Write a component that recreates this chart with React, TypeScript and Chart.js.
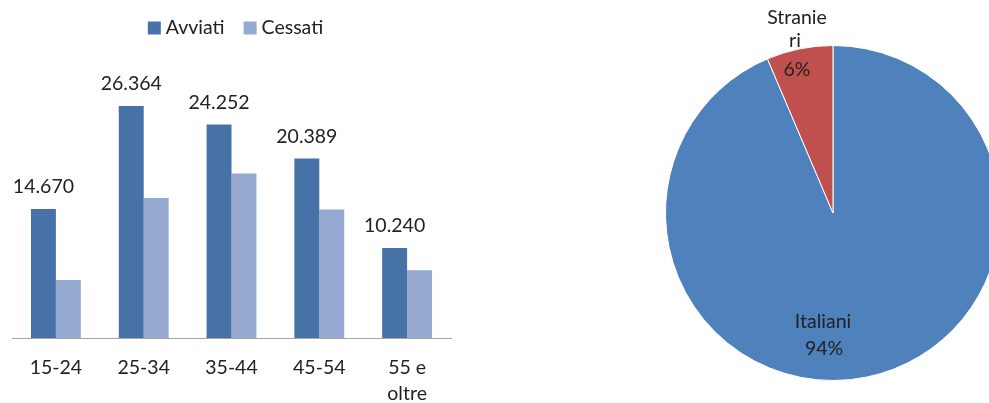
import React, { useEffect, useRef } from 'react';
import { Chart, registerables } from 'chart.js';

Chart.register(...registerables);

// ---- data ----
const ageGroups: (string | string[])[] = ['15-24', '25-34', '35-44', '45-54', ['55 e', 'oltre']];
const seriesNames = ['Avviati', 'Cessati'];
const avviati = [14670, 26364, 24252, 20389, 10240];
const cessati = [6600, 15900, 18700, 14600, 7700];
const yMax = 30000;

const origins = ['Italiani', 'Stranieri'];
const originLabelLines = [['Italiani'], ['Stranie', 'ri']];
const originShares = [93.6, 6.4];

// ---- style ----
const FONT = 'Lato';
const FS = 19.5;
const TEXT = '#222222';
const C_AVV = '#4672A8';
const C_CES = '#95A9D1';
const C_ITA = '#4F81BD';
const C_STR = '#C0504D';

const fmt = (v: number) => String(v).replace(/\B(?=(\d{3})+(?!\d))/g, '.');

const barExtras = {
  id: 'barExtras',
  afterDatasetsDraw(chart: any) {
    const ctx = chart.ctx;
    ctx.save();
    ctx.font = `${FS}px ${FONT}`;
    ctx.fillStyle = TEXT;
    ctx.textAlign = 'center';
    ctx.textBaseline = 'alphabetic';
    const meta = chart.getDatasetMeta(0);
    meta.data.forEach((bar: any, i: number) => {
      ctx.fillText(fmt(chart.data.datasets[0].data[i]), bar.x, bar.y - 16);
    });
    // legend
    const box = 13, gap = 5, itemGap = 19;
    const items = chart.data.datasets.map((ds: any) => ({
      label: ds.label,
      color: ds.backgroundColor,
      w: box + gap + ctx.measureText(ds.label).width,
    }));
    const total = items.reduce((s: number, it: any) => s + it.w, 0) + itemGap * (items.length - 1);
    const ca = chart.chartArea;
    let x = (ca.left + ca.right) / 2 + 4 - total / 2;
    ctx.textAlign = 'left';
    items.forEach((it: any) => {
      ctx.fillStyle = it.color;
      ctx.fillRect(x, 21.5, box, box);
      ctx.fillStyle = TEXT;
      ctx.fillText(it.label, x + box + gap, 34);
      x += it.w + itemGap;
    });
    ctx.restore();
  },
};

const pieLabels = {
  id: 'pieLabels',
  afterDatasetsDraw(chart: any) {
    const ctx = chart.ctx;
    const meta = chart.getDatasetMeta(0);
    const arc0 = meta.data[0];
    const cx = arc0.x, cy = arc0.y;
    const data = chart.data.datasets[0].data as number[];
    const total = data.reduce((a, b) => a + b, 0);
    ctx.save();
    ctx.font = `${FS}px ${FONT}`;
    ctx.fillStyle = TEXT;
    ctx.textAlign = 'center';
    ctx.textBaseline = 'alphabetic';
    // Italiani
    const pct = (i: number) => Math.round((data[i] / total) * 100) + '%';
    ctx.fillText(originLabelLines[0][0], cx - 10, cy + 115);
    ctx.fillText(pct(0), cx - 9, cy + 142);
    // Stranieri
    ctx.fillText(originLabelLines[1][0], cx - 36, cy - 189.5);
    ctx.fillText(originLabelLines[1][1], cx - 38, cy - 166.5);
    ctx.fillText(pct(1), cx - 36, cy - 137);
    ctx.restore();
  },
};

export default function App() {
  const barRef = useRef<HTMLCanvasElement>(null);
  const pieRef = useRef<HTMLCanvasElement>(null);

  useEffect(() => {
    const bar = new Chart(barRef.current!, {
      type: 'bar',
      data: {
        labels: ageGroups as any,
        datasets: [
          { label: seriesNames[0], data: avviati, backgroundColor: C_AVV, borderWidth: 0 },
          { label: seriesNames[1], data: cessati, backgroundColor: C_CES, borderWidth: 0 },
        ],
      },
      options: {
        responsive: false,
        animation: false,
        devicePixelRatio: 1,
        categoryPercentage: 0.568,
        barPercentage: 1,
        layout: { padding: { left: 12, right: 19, top: 74, bottom: 0 } },
        plugins: { legend: { display: false }, tooltip: { enabled: false } },
        scales: {
          x: {
            grid: { display: false, drawTicks: false },
            border: { display: true, color: '#A6A6A6', width: 1 },
            ticks: {
              color: TEXT,
              font: { family: FONT, size: FS, lineHeight: 1.33 },
              padding: 17,
              maxRotation: 0,
              autoSkip: false,
            },
            afterFit: (s: any) => { s.height = 65; },
          },
          y: { display: false, min: 0, max: yMax },
        },
      },
      plugins: [barExtras],
    });

    const pie = new Chart(pieRef.current!, {
      type: 'pie',
      data: {
        labels: origins,
        datasets: [
          {
            data: originShares,
            backgroundColor: [C_ITA, C_STR],
            borderColor: '#ffffff',
            borderWidth: 1,
          },
        ],
      },
      options: {
        responsive: false,
        animation: false,
        devicePixelRatio: 1,
        layout: { padding: { top: 45, bottom: 22, left: 0, right: 0 } },
        plugins: { legend: { display: false }, tooltip: { enabled: false } },
      },
      plugins: [pieLabels],
    });

    return () => {
      bar.destroy();
      pie.destroy();
    };
  }, []);

  return (
    <div
      style={{
        position: 'absolute',
        left: 0,
        top: 0,
        width: 989,
        height: 403,
        overflow: 'hidden',
        background: '#ffffff',
      }}
    >
      <canvas
        ref={barRef}
        width={470}
        height={403}
        style={{ position: 'absolute', left: 0, top: 0, width: 470, height: 403 }}
      />
      <canvas
        ref={pieRef}
        width={466}
        height={403}
        style={{ position: 'absolute', left: 600, top: 0, width: 466, height: 403 }}
      />
    </div>
  );
}
